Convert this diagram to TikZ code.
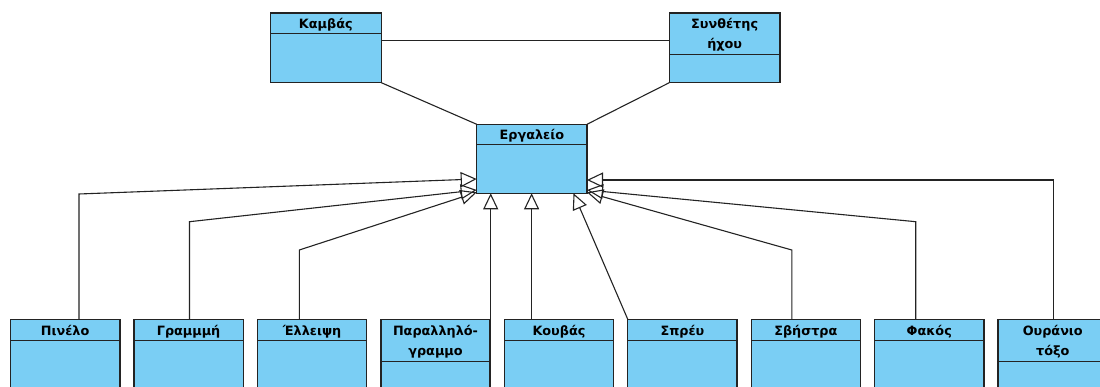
\documentclass[tikz,border=0pt]{standalone}
\usepackage{fontspec}
\setmainfont{DejaVu Sans}
\usepackage{xcolor}
\usepackage{tikz}
\usetikzlibrary{positioning,arrows.meta}
\definecolor{classfill}{RGB}{122,206,244}
\definecolor{edgec}{RGB}{35,35,35}

\begin{document}
\begin{tikzpicture}[
  x=1pt, y=1pt,
  classhead/.style={rectangle, draw=edgec, fill=classfill, line width=1.4pt,
                    outer sep=0pt, inner sep=0pt, anchor=north west,
                    minimum width=110pt, minimum height=21.4pt, text depth=0pt,
                    align=center, font=\fontsize{12.8}{20}\selectfont\bfseries},
  twoline/.style={minimum height=42.4pt},
  sub/.style={minimum width=109.3pt},
  classbody/.style={rectangle, draw=edgec, fill=classfill, line width=1.4pt,
                    outer sep=0pt, inner sep=0pt, minimum width=110pt},
  assoc/.style={draw=edgec, line width=1.1pt},
  gen/.style={draw=edgec, line width=1.1pt,
              -{Triangle[open, length=16pt, width=15pt]}}
]
\useasboundingbox (0,0) rectangle (1100,387);
\clip (0,0) rectangle (1100,387);

% Top row: the two owners
\node[classhead, minimum width=111pt, minimum height=20.5pt] (kamvas) at (270.3,374) {Καμβάς};
\node[classbody, minimum width=111pt, minimum height=49.2pt, below=0pt of kamvas] (kamvasb) {};
\node[classhead, minimum width=110.7pt, minimum height=41.5pt] (synth) at (669.3,374) {Συνθέτης\\ήχου};
\node[classbody, minimum width=110.7pt, minimum height=28.2pt, below=0pt of synth] (synthb) {};

% Middle: the base class
\node[classhead, minimum width=110.3pt, minimum height=20.4pt] (ergaleio) at (476.7,262.7) {Εργαλείο};
\node[classbody, minimum width=110.3pt, minimum height=48.6pt, below=0pt of ergaleio] (ergaleiob) {};

% Bottom row: the concrete tools
\node[classhead, sub] (pinelo) at (10.5,67.7) {Πινέλο};
\node[classbody, sub, minimum height=60pt, below=0pt of pinelo] (pinelob) {};
\node[classhead, sub] (grammi) at (133.95,67.7) {Γραμμμή};
\node[classbody, sub, minimum height=60pt, below=0pt of grammi] (grammib) {};
\node[classhead, sub] (elleipsi) at (257.4,67.7) {Έλλειψη};
\node[classbody, sub, minimum height=60pt, below=0pt of elleipsi] (elleipsib) {};
\node[classhead, sub, twoline] (parall) at (380.85,67.7) {Παραλληλό-\\γραμμο};
\node[classbody, sub, minimum height=40pt, below=0pt of parall] (parallb) {};
\node[classhead, sub] (kouvas) at (504.3,67.7) {Κουβάς};
\node[classbody, sub, minimum height=60pt, below=0pt of kouvas] (kouvasb) {};
\node[classhead, sub] (spreu) at (627.75,67.7) {Σπρέυ};
\node[classbody, sub, minimum height=60pt, below=0pt of spreu] (spreub) {};
\node[classhead, sub] (svistra) at (751.2,67.7) {Σβήστρα};
\node[classbody, sub, minimum height=60pt, below=0pt of svistra] (svistrab) {};
\node[classhead, sub] (fakos) at (874.65,67.7) {Φακός};
\node[classbody, sub, minimum height=60pt, below=0pt of fakos] (fakosb) {};
\node[classhead, sub, twoline] (ouranio) at (998.1,67.7) {Ουράνιο\\τόξο};
\node[classbody, sub, minimum height=40pt, below=0pt of ouranio] (ouraniob) {};

% Associations between the top classes
\coordinate (assocL) at ([yshift=-7.2pt]kamvasb.north east);
\draw[assoc] (assocL) -- (assocL -| synth.west);
\draw[assoc] (kamvasb.south east) -- (ergaleio.north west);
\draw[assoc] (synthb.south west) -- (ergaleio.north east);

% Arrow ends on the base class
\coordinate (tipL1) at ([yshift=14.3pt]ergaleiob.south west);
\coordinate (tipL2) at ([yshift=3.3pt]ergaleiob.south west);
\coordinate (tipL3) at ([yshift=1pt]ergaleiob.south west);
\coordinate (tipR1) at ([yshift=13.3pt]ergaleiob.south east);
\coordinate (tipR2) at ([yshift=3.3pt]ergaleiob.south east);
\coordinate (tipR3) at ([yshift=1pt]ergaleiob.south east);
\coordinate (tipB1) at ([xshift=14pt]ergaleiob.south west);
\coordinate (tipB2) at ([xshift=54.9pt]ergaleiob.south west);
\coordinate (tipB3) at ([xshift=96.8pt]ergaleiob.south west);

% Bends of the generalisation lines
\coordinate (bPin) at (79,193);
\coordinate (bGra) at (189.5,165.3);
\coordinate (bEll) at (299.3,137);
\coordinate (bSvi) at (791.8,137);
\coordinate (bFak) at (915.7,165.3);
\coordinate (bOur) at (1053.6,207);

% Generalisations
\draw[gen] (bPin |- pinelo.north) -- (bPin) -- (tipL1);
\draw[gen] (bGra |- grammi.north) -- (bGra) -- (tipL2);
\draw[gen] (bEll |- elleipsi.north) -- (bEll) -- (tipL3);
\draw[gen] (tipB1 |- parall.north) -- (tipB1);
\draw[gen] (tipB2 |- kouvas.north) -- (tipB2);
\draw[gen] (spreu.north west) -- (tipB3);
\draw[gen] (bSvi |- svistra.north) -- (bSvi) -- (tipR3);
\draw[gen] (bFak |- fakos.north) -- (bFak) -- (tipR2);
\draw[gen] (bOur |- ouranio.north) -- (bOur) -- (tipR1);

\end{tikzpicture}
\end{document}
